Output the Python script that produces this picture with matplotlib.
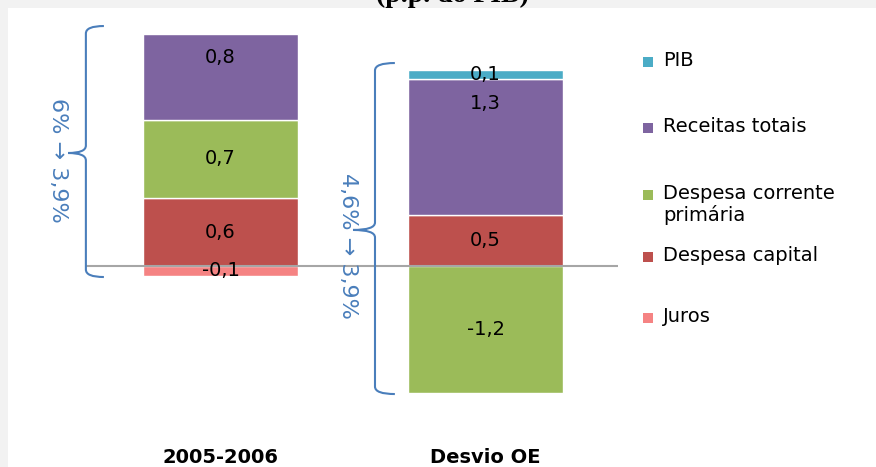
import numpy as np
import matplotlib.pyplot as plt
from matplotlib.path import Path
from matplotlib.patches import PathPatch, Rectangle

# dados (p.p. do PIB)
categorias = ["2005-2006", "Desvio OE"]
series = ["PIB", "Receitas totais", "Despesa corrente\nprimária", "Despesa capital", "Juros"]
cores = ["#4bacc6", "#7e64a0", "#9bbb59", "#bd504d", "#f58383"]

# valores estimados por serie (um por categoria)
pib = [0.0, 0.09]
receitas = [0.81, 1.28]
desp_corrente = [0.74, -1.20]
desp_capital = [0.64, 0.48]
juros = [-0.09, 0.0]

# rotulos tal como aparecem no grafico
rot_pib = ["", "0,1"]
rot_receitas = ["0,8", "1,3"]
rot_corrente = ["0,7", "-1,2"]
rot_capital = ["0,6", "0,5"]
rot_juros = ["-0,1", ""]

chavetas = ["6% \u2192 3,9%", "4,6% \u2192 3,9%"]

W, H = 876, 467
fig = plt.figure(figsize=(W / 100, H / 100), dpi=100, facecolor="#f2f2f2")
ax = fig.add_axes([8 / W, 0, 868 / W, 459 / H])
ax.set_facecolor("white")
for sp in ax.spines.values():
    sp.set_visible(False)
ax.set_xticks([])
ax.set_yticks([])

x = np.arange(len(categorias))
largura = 0.585
esc = 106.0  # px por unidade
ax.set_xlim(-(220.5 - 8) / 265, (876 - 220.5) / 265)
ax.set_ylim(-201 / esc, 258 / esc)

# ordem de empilhamento (de baixo para cima)
pilha = [(desp_capital, rot_capital, 3), (desp_corrente, rot_corrente, 2),
         (receitas, rot_receitas, 1), (pib, rot_pib, 0), (juros, rot_juros, 4)]

pos = np.zeros(len(categorias))
neg = np.zeros(len(categorias))
for vals, rots, ci in pilha:
    for i, v in enumerate(vals):
        if v == 0:
            continue
        if v > 0:
            base = pos[i]
            pos[i] += v
        else:
            base = neg[i]
            neg[i] += v
        ax.bar(x[i], v, largura, bottom=base, color=cores[ci],
               edgecolor="white", linewidth=1, zorder=2)
        if ci == 1:
            # rotulo das receitas perto do topo
            ax.annotate(rots[i], (x[i], base + v), xytext=(0, -17),
                        textcoords="offset points", ha="center", va="center",
                        fontsize=14, color="black", zorder=4)
        else:
            ax.text(x[i], base + v / 2, rots[i], ha="center", va="center",
                    fontsize=14, color="black", zorder=4)

ax.hlines(0, -0.511, 1.5, color="#a6a6a6", linewidth=1.5, zorder=3)


def chaveta(xv, xt, xg, ytop, ybot, ytip):
    ry = 0.07
    verts = [(xg, ytop), (xv, ytop), (xv, ytop - ry),
             (xv, ytip + ry), (xv, ytip), (xt, ytip),
             (xt, ytip), (xv, ytip), (xv, ytip - ry),
             (xv, ybot + ry), (xv, ybot), (xg, ybot)]
    codes = [Path.MOVETO, Path.CURVE3, Path.CURVE3,
             Path.LINETO, Path.CURVE3, Path.CURVE3,
             Path.MOVETO, Path.CURVE3, Path.CURVE3,
             Path.LINETO, Path.CURVE3, Path.CURVE3]
    ax.add_patch(PathPatch(Path(verts, codes), facecolor="none",
                           edgecolor="#4a7ebb", linewidth=1.5, zorder=3))


chaveta(-0.508, -0.575, -0.44, 2.264, -0.104, 1.066)
chaveta(0.583, 0.50, 0.658, 1.915, -1.208, 0.34)

ax.text(-0.613, 1.0, chavetas[0], rotation=-90, ha="center", va="center",
        fontsize=16, color="#4a7ebb", zorder=4)
ax.text(0.481, 0.19, chavetas[1], rotation=-90, ha="center", va="center",
        fontsize=16, color="#4a7ebb", zorder=4)

# eixo das categorias
for i, c in enumerate(categorias):
    ax.text(x[i], -1.81, c, ha="center", va="center", fontsize=14,
            fontweight="bold", color="black")

# legenda
ly = [62, 128, 195, 257, 318]
for s, c, yy in zip(series, cores, ly):
    fig.patches.append(Rectangle((643 / W, 1 - (yy + 5) / H), 10 / W, 10 / H,
                                 transform=fig.transFigure, facecolor=c,
                                 edgecolor="none"))
    fig.text(663 / W, 1 - (yy - 11) / H, s, ha="left", va="top", fontsize=14,
             linespacing=1.15)

fig.text(452 / W, 1 - 2 / H, "(p.p. do PIB)", ha="center", va="baseline",
         fontsize=20, fontweight="bold", family="Liberation Serif")

fig.savefig("out.png", dpi=100, facecolor=fig.get_facecolor())
